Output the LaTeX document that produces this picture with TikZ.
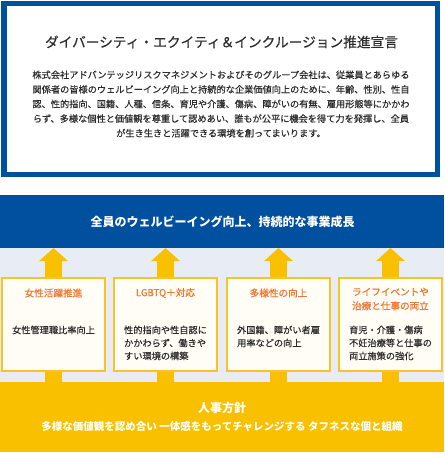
\documentclass[tikz,border=0pt]{standalone}
\usepackage{fontspec}
\setmainfont{Noto Sans CJK JP}
\newfontfamily\medjp{Noto Sans CJK JP}[FakeBold=0.9]
\newfontfamily\semijp{Noto Sans CJK JP}[FakeBold=0.35]
\usetikzlibrary{arrows.meta}
\definecolor{dblue}{RGB}{0,80,160}
\definecolor{lgrey}{RGB}{232,237,245}
\definecolor{gold}{RGB}{249,192,0}
\definecolor{cardfill}{RGB}{255,253,245}
\definecolor{cardline}{RGB}{250,195,40}
\definecolor{orangetxt}{RGB}{240,120,50}
\definecolor{txt}{RGB}{45,45,45}
\tikzset{
  card/.style={draw=cardline, line width=2pt, fill=cardfill, minimum width=103pt, minimum height=93pt, inner sep=0pt, outer sep=0pt},
  cardtitle/.style={text=orangetxt, font=\medjp\fontsize{9.6}{14}\selectfont, align=center, inner sep=0pt},
  cardbody/.style={text=txt, font=\semijp\fontsize{9.2}{13}\selectfont, align=left, inner sep=0pt, anchor=north},
  uparrow/.style={draw=gold, line width=16.5pt, -{Triangle[width=28pt,length=13pt]}},
}
\begin{document}
\begin{tikzpicture}[x=1pt,y=-1pt]
\useasboundingbox (0,0) rectangle (444,454);
\fill[white] (0,0) rectangle (444,454);
% top declaration box
\node[draw=dblue, line width=5.5pt, fill=white, minimum width=433.5pt, minimum height=170.75pt, inner sep=0pt] (decl) at (220.5,89.1) {};
\node[text=txt, font=\semijp\fontsize{13.7}{16}\selectfont, inner sep=0pt] (decltitle) at (221.5,42) {ダイバーシティ・エクイティ＆インクルージョン推進宣言};
\node[text=txt, font=\semijp\fontsize{9.2}{14.6}\selectfont, align=center, inner sep=0pt] (decltext) at (221,104) {株式会社アドバンテッジリスクマネジメントおよびそのグループ会社は、従業員とあらゆる\\関係者の皆様のウェルビーイング向上と持続的な企業価値向上のために、年齢、性別、性自\\認、性的指向、国籍、人種、信条、育児や介護、傷病、障がいの有無、雇用形態等にかかわ\\らず、多様な個性と価値観を尊重して認めあい、誰もが公平に機会を得て力を発揮し、全員\\が生き生きと活躍できる環境を創ってまいります。};
% background band
\fill[lgrey] (0,248) rectangle (444,382);
% bottom policy box
\node[fill=gold, minimum width=444pt, minimum height=70pt, inner sep=0pt, outer sep=0pt, anchor=north west] (policy) at (0,382) {};
\node[text=white, font=\fontsize{12}{14}\selectfont\bfseries, inner sep=0pt] (policytitle) at (222,408) {人事方針};
\node[text=white, font=\fontsize{10.5}{13}\selectfont\bfseries, inner sep=0pt] (policytext) at (222,427) {多様な価値観を認め合い 一体感をもってチャレンジする タフネスな個と組織};
% top banner
\node[fill=dblue, minimum width=444pt, minimum height=53pt, inner sep=0pt, outer sep=0pt, anchor=north west] (banner) at (0,195) {};
\node[text=white, font=\fontsize{12}{14}\selectfont\bfseries, inner sep=0pt] (bannertext) at (222.5,222) {全員のウェルビーイング向上、持続的な事業成長};
% card anchors
\coordinate (c1) at (53.5,324.5);
\coordinate (c2) at (165.5,324.5);
\coordinate (c3) at (278.5,324.5);
\coordinate (c4) at (390.5,324.5);
% arrows
\foreach \c in {c1,c2,c3,c4}
  \draw[uparrow] (policy.north -| \c) -- (banner.south -| \c);
% cards
\node[card] (card1) at (c1) {};
\node[card] (card2) at (c2) {};
\node[card] (card3) at (c3) {};
\node[card] (card4) at (c4) {};
\node[cardtitle] (t1) at (53.5,293) {女性活躍推進};
\node[cardtitle] (t2) at (165.5,293) {LGBTQ＋対応};
\node[cardtitle] (t3) at (278.5,293) {多様性の向上};
\node[cardtitle] (t4) at (390.5,299) {ライフイベントや\\治療と仕事の両立};
\node[cardbody] (b1) at (53.5,325.5) {女性管理職比率向上};
\node[cardbody] (b2) at (165.5,325.5) {性的指向や性自認に\\かかわらず、働きや\\すい環境の構築};
\node[cardbody] (b3) at (278.5,325.5) {外国籍、障がい者雇\\用率などの向上};
\node[cardbody] (b4) at (390.5,325.5) {育児・介護・傷病\\不妊治療等と仕事の\\両立施策の強化};
\end{tikzpicture}
\end{document}
